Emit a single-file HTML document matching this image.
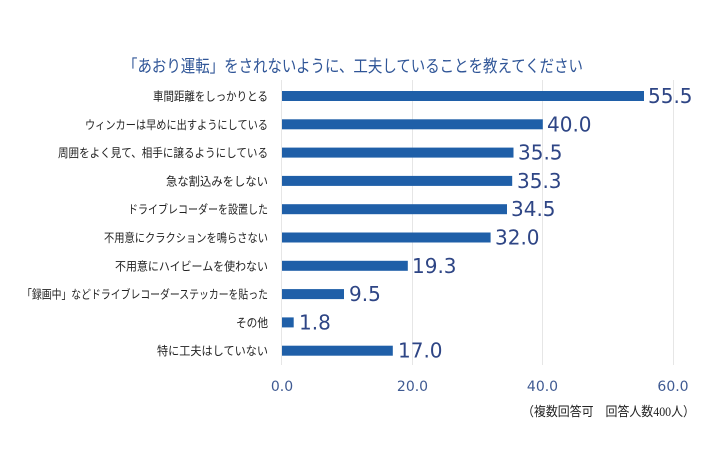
<!DOCTYPE html>
<html>
<head>
<meta charset="utf-8">
<style>
html,body{margin:0;padding:0;background:#fff;}
svg{display:block;}
.cat{font-family:"Liberation Sans","Noto Sans CJK JP",sans-serif;font-size:12px;fill:#222;}
.val{font-family:"DejaVu Sans",sans-serif;font-size:20px;fill:#2E4585;}
.tick{font-family:"DejaVu Sans",sans-serif;font-size:14px;fill:#3F5A92;}
</style>
</head>
<body>
<svg width="710" height="474" viewBox="0 0 710 474" xmlns="http://www.w3.org/2000/svg">
<rect width="710" height="474" fill="#fff"/>
<text x="123" y="72" font-family="'Liberation Sans','Noto Sans CJK JP',sans-serif" font-size="17" fill="#2F5597" textLength="460" lengthAdjust="spacingAndGlyphs">「あおり運転」をされないように、工夫していることを教えてください</text>
<g stroke="#E6E6E6" stroke-width="1">
<line x1="281.5" y1="80" x2="281.5" y2="365"/>
<line x1="412.5" y1="80" x2="412.5" y2="365"/>
<line x1="542.5" y1="80" x2="542.5" y2="365"/>
<line x1="673.5" y1="80" x2="673.5" y2="365"/>
</g>
<g fill="#1F5FA8">
<rect x="282" y="91" width="362" height="10"/>
<rect x="282" y="119.3" width="260.8" height="10"/>
<rect x="282" y="147.6" width="231.5" height="10"/>
<rect x="282" y="175.9" width="230.2" height="10"/>
<rect x="282" y="204.2" width="225" height="10"/>
<rect x="282" y="232.5" width="208.6" height="10"/>
<rect x="282" y="260.8" width="125.8" height="10"/>
<rect x="282" y="289.1" width="62" height="10"/>
<rect x="282" y="317.4" width="11.7" height="10"/>
<rect x="282" y="345.7" width="110.8" height="10"/>
</g>
<g class="cat" text-anchor="end">
<text x="268" y="100.5" textLength="115" lengthAdjust="spacingAndGlyphs">車間距離をしっかりとる</text>
<text x="268" y="128.8" textLength="183" lengthAdjust="spacingAndGlyphs">ウィンカーは早めに出すようにしている</text>
<text x="268" y="157.1" textLength="210" lengthAdjust="spacingAndGlyphs">周囲をよく見て、相手に譲るようにしている</text>
<text x="268" y="185.4" textLength="102" lengthAdjust="spacingAndGlyphs">急な割込みをしない</text>
<text x="268" y="213.7" textLength="140" lengthAdjust="spacingAndGlyphs">ドライブレコーダーを設置した</text>
<text x="268" y="242" textLength="164" lengthAdjust="spacingAndGlyphs">不用意にクラクションを鳴らさない</text>
<text x="268" y="270.3" textLength="153" lengthAdjust="spacingAndGlyphs">不用意にハイビームを使わない</text>
<text x="268" y="298.6" textLength="246" lengthAdjust="spacingAndGlyphs">「録画中」などドライブレコーダーステッカーを貼った</text>
<text x="268" y="326.9" textLength="32" lengthAdjust="spacingAndGlyphs">その他</text>
<text x="268" y="355.2" textLength="111" lengthAdjust="spacingAndGlyphs">特に工夫はしていない</text>
</g>
<g class="val">
<text x="648" y="103">55.5</text>
<text x="547" y="131.3">40.0</text>
<text x="518" y="159.6">35.5</text>
<text x="517" y="187.9">35.3</text>
<text x="511" y="216.2">34.5</text>
<text x="495" y="244.5">32.0</text>
<text x="412" y="272.8">19.3</text>
<text x="349" y="301.1">9.5</text>
<text x="299" y="329.4">1.8</text>
<text x="398" y="357.7">17.0</text>
</g>
<g class="tick" text-anchor="middle">
<text x="282" y="391">0.0</text>
<text x="412.5" y="391">20.0</text>
<text x="542.5" y="391">40.0</text>
<text x="673" y="391">60.0</text>
</g>
<text x="522" y="416" font-family="'Liberation Serif','Noto Sans CJK JP',sans-serif" font-size="13" fill="#222" textLength="173" lengthAdjust="spacingAndGlyphs">（複数回答可　回答人数400人）</text>
</svg>
</body>
</html>
